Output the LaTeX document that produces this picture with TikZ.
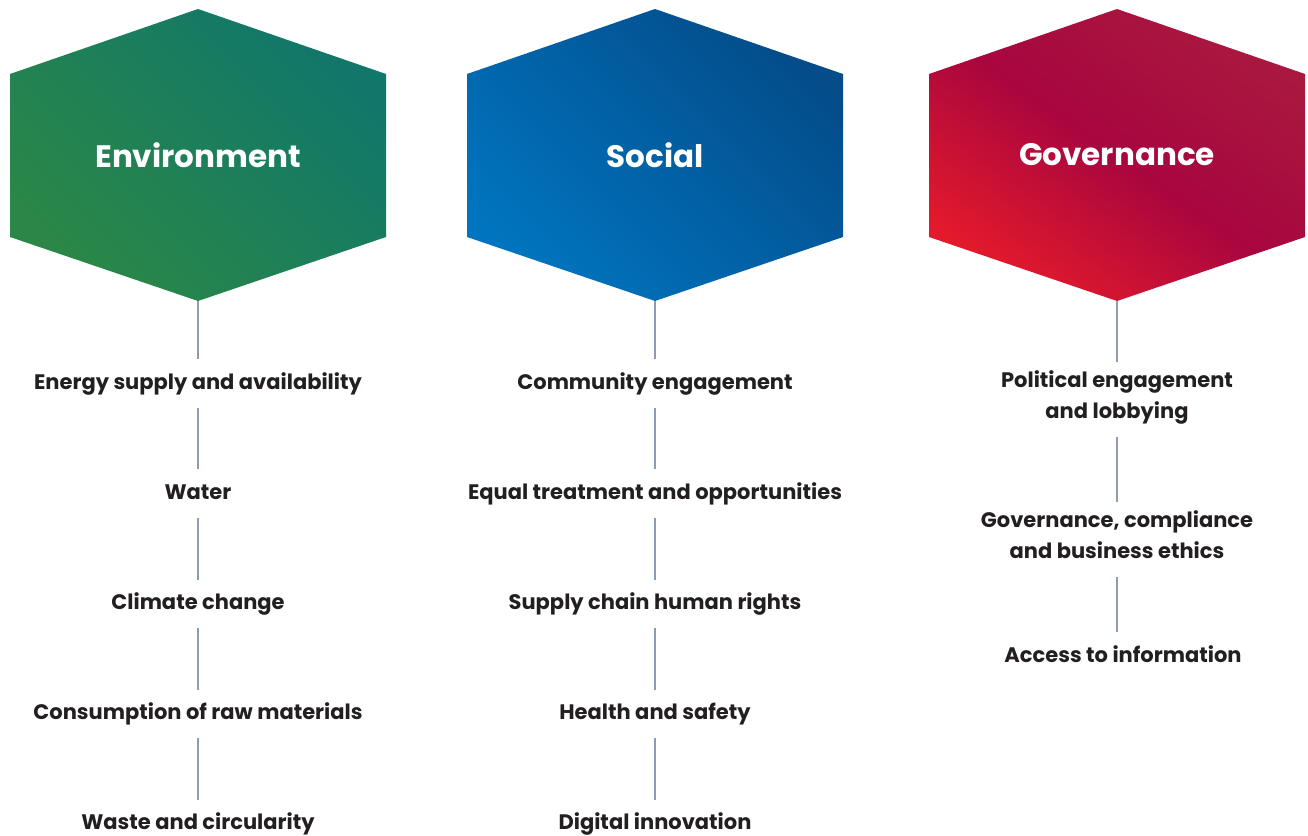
\documentclass[tikz,border=0pt]{standalone}
\usepackage{fontspec}
\setmainfont{Poppins}
\usetikzlibrary{positioning}

\definecolor{envA}{HTML}{2B8747}
\definecolor{envB}{HTML}{10776A}
\definecolor{socA}{HTML}{0074BE}
\definecolor{socB}{HTML}{044C8A}
\definecolor{govA}{HTML}{E31A2C}
\definecolor{govM}{HTML}{A8063F}
\definecolor{govB}{HTML}{A9183F}
\definecolor{ink}{HTML}{231F20}
\definecolor{linegray}{HTML}{8C9CB2}

\begin{document}
\begin{tikzpicture}[
    x=1pt, y=-1pt,
    title/.style={font=\bfseries\fontsize{31}{36}\selectfont, text=white},
    item/.style={font=\bfseries\fontsize{21}{31}\selectfont, text=ink, align=center,
                 inner sep=0pt, execute at begin node=\strut, execute at end node=\strut},
    link/.style={draw=linegray, line width=1.1pt, shorten <=9pt, shorten >=8pt},
    ]
\useasboundingbox (0,0) rectangle (1308,835);

% Hexagones
\shade[top color=envB, bottom color=envA, shading angle=-45]
  (198,9) -- (386,74) -- (386,237) -- (198,301) -- (10,237) -- (10,74) -- cycle;
\shade[top color=socB, bottom color=socA, shading angle=-45]
  (655,9) -- (843,74) -- (843,237) -- (655,301) -- (467,237) -- (467,74) -- cycle;
\shade[top color=govB, bottom color=govA, middle color=govM, shading angle=-35]
  (1117,9) -- (1305,74) -- (1305,237) -- (1117,301) -- (929,237) -- (929,74) -- cycle;

\node[title] (env) at (198,155) {Environment};
\node[title] (soc) at (655,155) {Social};
\node[title] (gov) at (1117,155) {Governance};

\coordinate (envtip) at (198,301);
\coordinate (soctip) at (655,301);
\coordinate (govtip) at (1117,301);

% Environment
\node[item] (e1) at (198,383) {Energy supply and availability};
\node[item, below=78.7pt of e1] (e2) {Water};
\node[item, below=78.7pt of e2] (e3) {Climate change};
\node[item, below=78.7pt of e3] (e4) {Consumption of raw materials};
\node[item, below=78.7pt of e4] (e5) {Waste and circularity};

% Social
\node[item] (s1) at (655,383) {Community engagement};
\node[item, below=78.7pt of s1] (s2) {Equal treatment and opportunities};
\node[item, below=78.7pt of s2] (s3) {Supply chain human rights};
\node[item, below=78.7pt of s3] (s4) {Health and safety};
\node[item, below=78.7pt of s4] (s5) {Digital innovation};

% Governance
\node[item] (g1) at (1117,399) {Political engagement\\and lobbying};
\node[item] (g2) at (1117,539) {Governance, compliance\\and business ethics};
\node[item] (g3) at (1123,656) {Access to information};

% Traits
\draw[link, shorten <=0pt] (envtip) -- (e1);
\draw[link, shorten <=0pt] (soctip) -- (s1);
\draw[link, shorten <=0pt] (govtip) -- (g1);
\foreach \a/\b in {e1/e2, e2/e3, e3/e4, e4/e5, s1/s2, s2/s3, s3/s4, s4/s5}
  \draw[link] (\a) -- (\b);
\draw[link] (g1) -- (g2);
\draw[link] (g2.south) -- (g2.south |- g3.north);

\end{tikzpicture}
\end{document}
